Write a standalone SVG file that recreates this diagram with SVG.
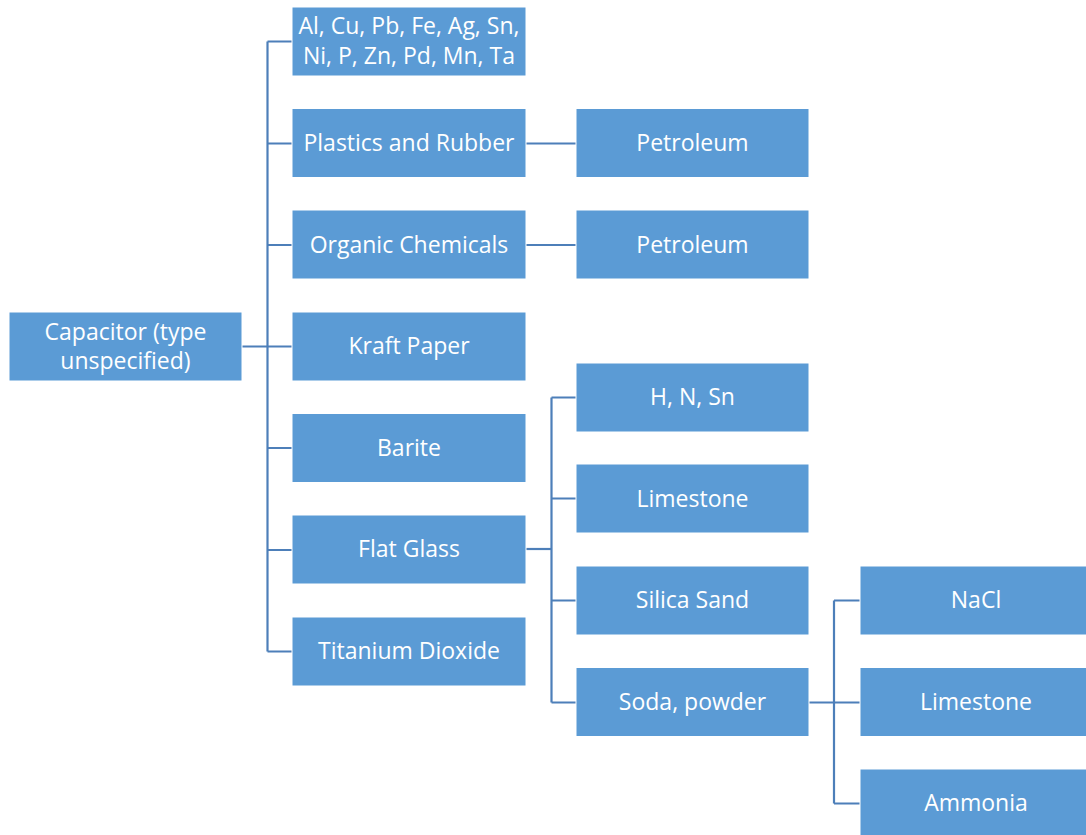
<svg xmlns="http://www.w3.org/2000/svg" width="1086" height="835" viewBox="0 0 1086 835">
  <style>
    .box { fill: #5B9BD5; stroke: #FFFFFF; stroke-width: 1; }
    .lbl { font-family: "Open Sans", "Liberation Sans", sans-serif; font-size: 23px; fill: #FFFFFF; text-anchor: middle; dominant-baseline: central; }
    .link { fill: none; stroke: #4D7FB9; stroke-width: 2.2; }
  </style>
  <rect width="1086" height="835" fill="#FFFFFF"/>

  <!-- connectors -->
  <g id="connectors">
    <path class="link" d="M242 346.5 H292"/>
    <path class="link" d="M267.5 41.5 V651.5"/>
    <path class="link" d="M267.5 41.5 H292 M267.5 143.5 H292 M267.5 245 H292 M267.5 448 H292 M267.5 550 H292 M267.5 651.5 H292"/>
    <path class="link" d="M526 143.5 H576 M526 245 H576"/>
    <path class="link" d="M526 549 H551.5"/>
    <path class="link" d="M551.5 397.5 V702.5 M551.5 397.5 H576 M551.5 498.5 H576 M551.5 600.5 H576 M551.5 702.5 H576"/>
    <path class="link" d="M809 702.5 H860"/>
    <path class="link" d="M834 600.5 V803.5 M834 600.5 H860 M834 803.5 H860"/>
  </g>

  <!-- root -->
  <g id="n-capacitor">
    <rect class="box" x="9" y="312" width="233" height="69"/>
    <text class="lbl" x="125.5" y="331">Capacitor (type</text>
    <text class="lbl" x="125.5" y="360">unspecified)</text>
  </g>

  <!-- first level -->
  <g id="n-metals">
    <rect class="box" x="292" y="7" width="234" height="69"/>
    <text class="lbl" x="409" y="25">Al, Cu, Pb, Fe, Ag, Sn,</text>
    <text class="lbl" x="409" y="55">Ni, P, Zn, Pd, Mn, Ta</text>
  </g>
  <g id="n-plastics">
    <rect class="box" x="292" y="108.5" width="234" height="69"/>
    <text class="lbl" x="409" y="142">Plastics and Rubber</text>
  </g>
  <g id="n-organic">
    <rect class="box" x="292" y="210" width="234" height="69"/>
    <text class="lbl" x="409" y="244">Organic Chemicals</text>
  </g>
  <g id="n-kraft">
    <rect class="box" x="292" y="312" width="234" height="69"/>
    <text class="lbl" x="409" y="345">Kraft Paper</text>
  </g>
  <g id="n-barite">
    <rect class="box" x="292" y="413.5" width="234" height="69"/>
    <text class="lbl" x="409" y="447">Barite</text>
  </g>
  <g id="n-flatglass">
    <rect class="box" x="292" y="515" width="234" height="69"/>
    <text class="lbl" x="409" y="548">Flat Glass</text>
  </g>
  <g id="n-tio2">
    <rect class="box" x="292" y="617" width="234" height="69"/>
    <text class="lbl" x="409" y="650">Titanium Dioxide</text>
  </g>

  <!-- second level -->
  <g id="n-petroleum1">
    <rect class="box" x="576" y="108.5" width="233" height="69"/>
    <text class="lbl" x="692.5" y="142">Petroleum</text>
  </g>
  <g id="n-petroleum2">
    <rect class="box" x="576" y="210" width="233" height="69"/>
    <text class="lbl" x="692.5" y="244">Petroleum</text>
  </g>
  <g id="n-hnsn">
    <rect class="box" x="576" y="363" width="233" height="69"/>
    <text class="lbl" x="692.5" y="396">H, N, Sn</text>
  </g>
  <g id="n-limestone1">
    <rect class="box" x="576" y="464" width="233" height="69"/>
    <text class="lbl" x="692.5" y="498">Limestone</text>
  </g>
  <g id="n-silica">
    <rect class="box" x="576" y="566" width="233" height="69"/>
    <text class="lbl" x="692.5" y="599">Silica Sand</text>
  </g>
  <g id="n-soda">
    <rect class="box" x="576" y="667.5" width="233" height="69"/>
    <text class="lbl" x="692.5" y="701">Soda, powder</text>
  </g>

  <!-- third level -->
  <g id="n-nacl">
    <rect class="box" x="860" y="566" width="234" height="69"/>
    <text class="lbl" x="976" y="599">NaCl</text>
  </g>
  <g id="n-limestone2">
    <rect class="box" x="860" y="667.5" width="234" height="69"/>
    <text class="lbl" x="976" y="701">Limestone</text>
  </g>
  <g id="n-ammonia">
    <rect class="box" x="860" y="769" width="234" height="69"/>
    <text class="lbl" x="976" y="802">Ammonia</text>
  </g>
</svg>
